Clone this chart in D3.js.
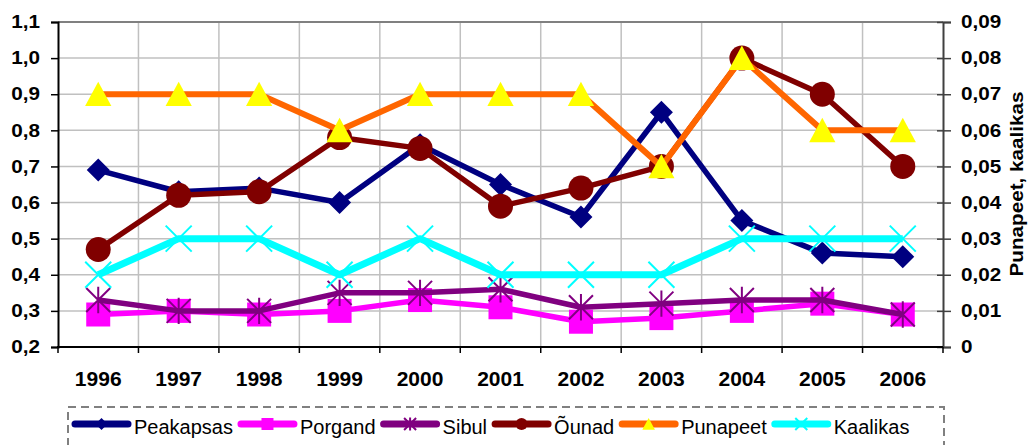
<!DOCTYPE html>
<html>
<head>
<meta charset="utf-8">
<script src="https://cdn.jsdelivr.net/npm/d3@7/dist/d3.min.js"></script>
<style>
  body { margin: 0; background: #fff; }
  svg { display: block; font-family: "Liberation Sans", Arial, sans-serif; }
</style>
</head>
<body>
<svg id="svg"></svg>
<script>

const width = 1030;
const height = 445;

// data
const years = ["1996","1997","1998","1999","2000","2001","2002","2003","2004","2005","2006"];
const peakapsas = [0.69, 0.63, 0.64, 0.60, 0.76, 0.65, 0.56, 0.85, 0.55, 0.46, 0.45];
const porgand   = [0.29, 0.30, 0.29, 0.30, 0.33, 0.31, 0.27, 0.28, 0.30, 0.32, 0.29];
const sibul     = [0.33, 0.30, 0.30, 0.35, 0.35, 0.36, 0.31, 0.32, 0.33, 0.33, 0.29];
const ounad     = [0.47, 0.62, 0.63, 0.78, 0.75, 0.59, 0.64, 0.70, 1.00, 0.90, 0.70];
const punapeet  = [0.07, 0.07, 0.07, 0.06, 0.07, 0.07, 0.07, 0.05, 0.08, 0.06, 0.06];
const kaalikas  = [0.02, 0.03, 0.03, 0.02, 0.03, 0.02, 0.02, 0.02, 0.03, 0.03, 0.03];

const leftTicks = [0.2, 0.3, 0.4, 0.5, 0.6, 0.7, 0.8, 0.9, 1.0, 1.1];
const rightTicks = [0, 0.01, 0.02, 0.03, 0.04, 0.05, 0.06, 0.07, 0.08, 0.09];
const rightTitle = "Punapeet, kaalikas";

const series = [
	{ name: "Peakapsas", values: peakapsas, axis: "left",  line: "#000080", fill: "#000080", marker: "diamond", lw: 5.5 },
	{ name: "Porgand",   values: porgand,   axis: "left",  line: "#FF00FF", fill: "#FF00FF", marker: "square",  lw: 5.5 },
	{ name: "Sibul",     values: sibul,     axis: "left",  line: "#800080", fill: "#800080", marker: "star",    lw: 5.5 },
	{ name: "Õunad",     values: ounad,     axis: "left",  line: "#800000", fill: "#800000", marker: "circle",  lw: 5.5 },
	{ name: "Punapeet",  values: punapeet,  axis: "right", line: "#FF6600", fill: "#FFFF00", marker: "triangle",lw: 6 },
	{ name: "Kaalikas",  values: kaalikas,  axis: "right", line: "#00FFFF", fill: "#00FFFF", marker: "cross",   lw: 7 }
];

const plot = { left: 58, right: 943, top: 22, bottom: 347 };
const stretch = 1.15; // tick labels in the picture are a bit wide

const svg = d3.select("#svg")
			.attr("width", width)
			.attr("height", height);

const x = d3.scaleBand().domain(years).range([plot.left, plot.right]);
const yL = d3.scaleLinear().domain([0.2, 1.1]).range([plot.bottom, plot.top]);
const yR = d3.scaleLinear().domain([0, 0.09]).range([plot.bottom, plot.top]);
const cx = d => x(d) + x.bandwidth() / 2;

const comma = f => v => (v === 0 ? "0" : d3.format(f)(v).replace(".", ","));

// grid
const grid = svg.append("g").attr("stroke", "#c0c0c0").attr("stroke-width", 1.5);
grid.selectAll("line.h")
	.data(leftTicks.slice(1, -1))
	.enter().append("line")
	.attr("x1", plot.left).attr("x2", plot.right)
	.attr("y1", d => yL(d)).attr("y2", d => yL(d));
grid.selectAll("line.v")
	.data(years.slice(1))
	.enter().append("line")
	.attr("x1", d => x(d)).attr("x2", d => x(d))
	.attr("y1", plot.top).attr("y2", plot.bottom);

// top border
svg.append("line")
	.attr("x1", plot.left).attr("x2", plot.right)
	.attr("y1", plot.top).attr("y2", plot.top)
	.attr("stroke", "#808080").attr("stroke-width", 2);

// left axis
const gL = svg.append("g")
	.attr("transform", `translate(${plot.left},0)`)
	.call(d3.axisLeft(yL).tickValues(leftTicks).tickSize(7).tickFormat(comma(".1f")));
styleAxis(gL, "#000");
gL.selectAll("text").attr("x", -18 / stretch).attr("transform", `scale(${stretch},1)`);

// right axis
const gR = svg.append("g")
	.attr("transform", `translate(${plot.right},0)`)
	.call(d3.axisRight(yR).tickValues(rightTicks).tickSize(8).tickFormat(comma(".2f")));
styleAxis(gR, "#404040");
gR.selectAll(".tick line").attr("x1", -6);
gR.selectAll("text").attr("x", 18 / stretch).attr("transform", `scale(${stretch},1)`);

// bottom axis: ticks on band edges, labels in band centres
const gB = svg.append("g");
gB.append("line")
	.attr("x1", plot.left - 1).attr("x2", plot.right)
	.attr("y1", plot.bottom).attr("y2", plot.bottom)
	.attr("stroke", "#000").attr("stroke-width", 2);
gB.selectAll("line.t")
	.data(years.concat(["end"]))
	.enter().append("line")
	.attr("x1", d => d === "end" ? plot.right : x(d))
	.attr("x2", d => d === "end" ? plot.right : x(d))
	.attr("y1", plot.bottom).attr("y2", plot.bottom + 6)
	.attr("stroke", "#000").attr("stroke-width", 1.5);
gB.selectAll("text")
	.data(years)
	.enter().append("text")
	.attr("x", cx)
	.attr("y", 386)
	.attr("text-anchor", "middle")
	.attr("font-size", 21)
	.attr("font-weight", "bold")
	.attr("fill", "#000")
	.text(d => d);

// right axis title
svg.append("text")
	.attr("transform", `translate(1023,184) rotate(-90) scale(${stretch},1)`)
	.attr("text-anchor", "middle")
	.attr("font-size", 18)
	.attr("font-weight", "bold")
	.text(rightTitle);

function styleAxis(g, color) {
	g.select(".domain").attr("stroke", color).attr("stroke-width", 2);
	g.selectAll(".tick line").attr("stroke", color).attr("stroke-width", 1.5);
	g.selectAll("text")
		.attr("font-size", 18)
		.attr("font-weight", "bold")
		.attr("font-family", "Liberation Sans, Arial, sans-serif")
		.attr("fill", "#000");
}

// marker shapes, s = half size
function markerPath(type, s) {
	const p = d3.path();
	if (type === "diamond") {
		p.moveTo(0, -s); p.lineTo(s, 0); p.lineTo(0, s); p.lineTo(-s, 0); p.closePath();
	} else if (type === "square") {
		p.rect(-s, -s, 2 * s, 2 * s);
	} else if (type === "circle") {
		p.arc(0, 0, s, 0, 2 * Math.PI);
	} else if (type === "triangle") {
		p.moveTo(0, -s); p.lineTo(s * 1.05, s * 0.95); p.lineTo(-s * 1.05, s * 0.95); p.closePath();
	} else if (type === "cross") {
		p.moveTo(-s, -s); p.lineTo(s, s); p.moveTo(s, -s); p.lineTo(-s, s);
	} else if (type === "star") {
		p.moveTo(-s, -s); p.lineTo(s, s); p.moveTo(s, -s); p.lineTo(-s, s);
		p.moveTo(0, -s * 1.1); p.lineTo(0, s * 1.1);
	}
	return p.toString();
}
const markerSize = { diamond: 11.5, square: 12, circle: 12.5, triangle: 12.5, cross: 13, star: 12 };
const isStroked = t => t === "cross" || t === "star";

function drawMarker(g, s, size) {
	g.append("path")
		.attr("d", markerPath(s.marker, size))
		.attr("fill", isStroked(s.marker) ? "none" : s.fill)
		.attr("stroke", isStroked(s.marker) ? s.fill : "none")
		.attr("stroke-width", isStroked(s.marker) ? 2 : 0);
}

// series
const layer = svg.append("g");
series.forEach(s => {
	const y = s.axis === "left" ? yL : yR;
	const pts = years.map((yr, i) => [cx(yr), y(s.values[i])]);
	const g = layer.append("g");
	g.append("path")
		.attr("d", d3.line()(pts))
		.attr("fill", "none")
		.attr("stroke", s.line)
		.attr("stroke-width", s.lw)
		.attr("stroke-linejoin", "round");
	pts.forEach(pt => {
		const m = g.append("g").attr("transform", `translate(${pt[0]},${pt[1]})`);
		drawMarker(m, s, markerSize[s.marker]);
	});
});

// legend
const legend = svg.append("g");
legend.append("rect")
	.attr("x", 68).attr("y", 407)
	.attr("width", 876).attr("height", 60)
	.attr("fill", "none")
	.attr("stroke", "#808080")
	.attr("stroke-width", 2)
	.attr("stroke-dasharray", "8,5");

let lx = 72;
series.forEach(s => {
	const item = legend.append("g").attr("transform", `translate(${lx},424)`);
	item.append("line")
		.attr("x1", 3).attr("x2", 56)
		.attr("stroke", s.line)
		.attr("stroke-width", 7)
		.attr("stroke-linecap", "round");
	const m = item.append("g").attr("transform", "translate(29.5,0)");
	drawMarker(m, s, 6);
	const t = item.append("text")
		.attr("x", 62)
		.attr("y", 10)
		.attr("font-size", 20)
		.attr("fill", "#000")
		.text(s.name);
	lx += 62 + t.node().getComputedTextLength() + 5;
});

</script>
</body>
</html>
